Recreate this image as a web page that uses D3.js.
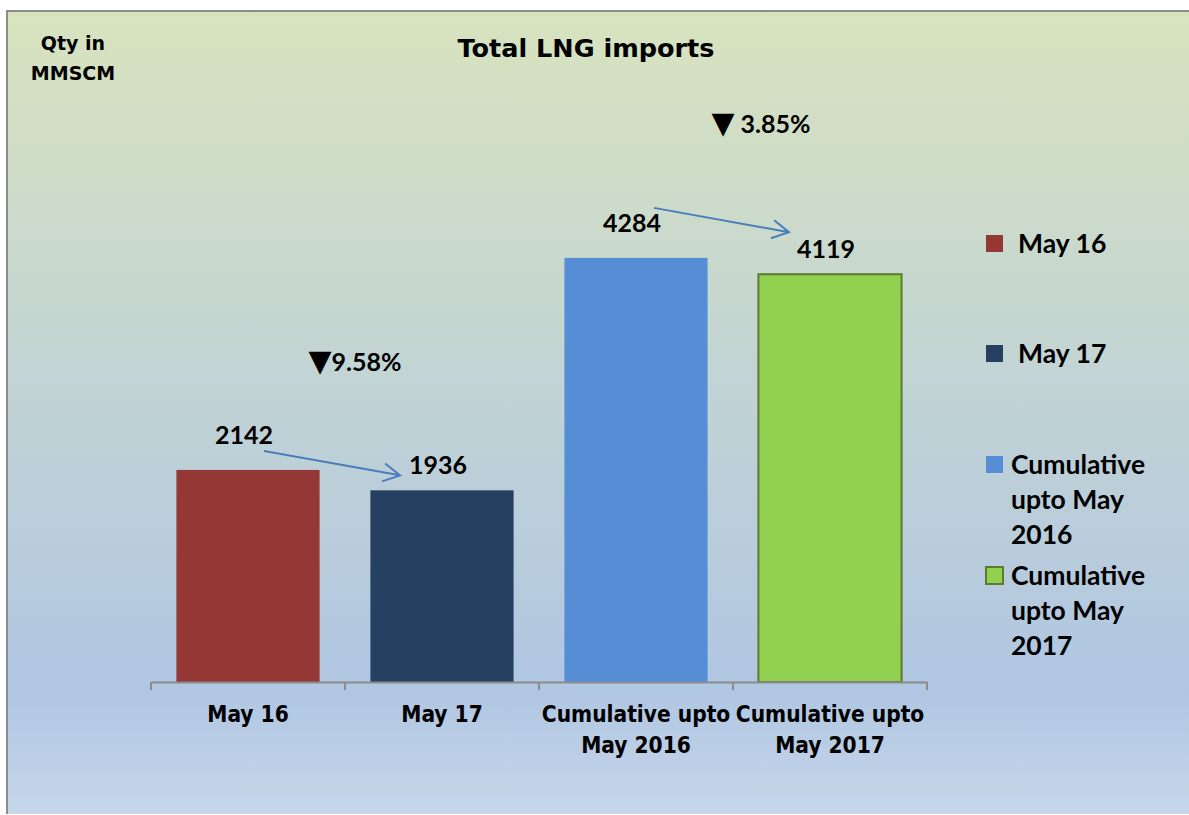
<!DOCTYPE html>
<html>
<head>
<meta charset="utf-8">
<script src="https://cdn.jsdelivr.net/npm/d3@7"></script>
<style>
  body { margin: 0; background: #fff; }
  text { font-family: Lato, "Open Sans", sans-serif; font-weight: bold; fill: #000; }
</style>
</head>
<body>
<svg id="chart" width="1189" height="815"></svg>
<script>
// categories and values
const categories = ['May 16', 'May 17', 'Cumulative upto May 2016', 'Cumulative upto May 2017'];
const values = [2142, 1936, 4284, 4119];
const colors = ['#953735', '#254061', '#558ed5', '#92d050'];
const changeLabels = ['9.58%', ' 3.85%'];
const changePairs = [[0, 1], [2, 3]];

/**
 * Wrap a label into lines no wider than maxWidth
 */
const wrapWords = (textSel, label, maxWidth, lineHeight) => {
  const words = label.split(' ');
  let line = [];
  let lines = [];
  let tspan = textSel.append('tspan').attr('x', textSel.attr('x'));
  words.forEach(w => {
    line.push(w);
    tspan.text(line.join(' '));
    if (tspan.node().getComputedTextLength() > maxWidth && line.length > 1) {
      line.pop();
      tspan.text(line.join(' '));
      lines.push(tspan);
      line = [w];
      tspan = textSel.append('tspan').attr('x', textSel.attr('x')).text(w);
    }
  });
  lines.push(tspan);
  lines.forEach((t, i) => t.attr('dy', i === 0 ? 0 : lineHeight));
};

const drawChart = () => {
  const svg = d3.select('#chart');
  const W = 1189, H = 815;

  // background panel with gradient
  const defs = svg.append('defs');
  const grad = defs.append('linearGradient')
    .attr('id', 'bg').attr('x1', 0).attr('y1', 0).attr('x2', 0).attr('y2', 1);
  grad.append('stop').attr('offset', '0%').attr('stop-color', '#d8e3be');
  grad.append('stop').attr('offset', '45%').attr('stop-color', '#c2d4d4');
  grad.append('stop').attr('offset', '85%').attr('stop-color', '#b0c6e2');
  grad.append('stop').attr('offset', '100%').attr('stop-color', '#c7d7ea');

  svg.append('rect')
    .attr('x', 7).attr('y', 11).attr('width', W - 7).attr('height', H - 12)
    .attr('fill', 'url(#bg)');
  svg.append('path')
    .attr('d', `M7,${H - 1} V11 H${W}`)
    .attr('fill', 'none')
    .attr('stroke', '#8c8c8c')
    .attr('stroke-width', 2);

  // scales
  const x = d3.scaleBand()
    .domain(categories)
    .range([151, 927])
    .paddingInner(0.262)
    .paddingOuter(0.131);
  const y = d3.scaleLinear()
    .domain([0, 5000])
    .range([682, 187]);

  // bars
  svg.append('g').selectAll('rect')
    .data(values)
    .join('rect')
    .attr('x', (d, i) => x(categories[i]))
    .attr('y', d => y(d))
    .attr('width', x.bandwidth())
    .attr('height', d => y(0) - y(d))
    .attr('fill', (d, i) => colors[i])
    .attr('stroke', (d, i) => i === 3 ? '#5e7a30' : 'none')
    .attr('stroke-width', 2);

  // x axis
  const axis = svg.append('g')
    .attr('transform', `translate(0,${y(0)})`)
    .call(d3.axisBottom(x).tickSize(0).tickFormat(''));
  axis.select('.domain').attr('stroke', '#8c8c8c').attr('stroke-width', 2);
  const step = x.step();
  const tickXs = d3.range(categories.length + 1).map(i => 151 + i * step);
  axis.selectAll('line.sep')
    .data(tickXs)
    .join('line')
    .attr('class', 'sep')
    .attr('x1', d => d).attr('x2', d => d)
    .attr('y1', 0).attr('y2', 8)
    .attr('stroke', '#8c8c8c')
    .attr('stroke-width', 2);

  // x axis labels
  categories.forEach(c => {
    const t = svg.append('text')
      .attr('x', x(c) + x.bandwidth() / 2)
      .attr('y', 722)
      .attr('text-anchor', 'middle')
      .style('font-family', '"DejaVu Sans Condensed", "DejaVu Sans", sans-serif')
      .style('font-size', '22.5px');
    wrapWords(t, c, 200, 31);
  });

  // value labels
  svg.append('g').selectAll('text')
    .data(values)
    .join('text')
    .attr('x', (d, i) => x(categories[i]) + x.bandwidth() / 2 - 4)
    .attr('y', (d, i) => y(d) - (i % 2 === 0 ? 26 : 16))
    .attr('text-anchor', 'middle')
    .style('font-size', '25px')
    .text(d => d);

  // change annotations with arrows
  const annotationLayout = [
    {dx: 10, dy: -108, sx: 16, sy: -19, ex: -42, ey: -15},
    {dx: 28, dy: -134, sx: 18, sy: -50, ex: -41, ey: -42}
  ];
  changePairs.forEach(([a, b], k) => {
    const L = annotationLayout[k];
    const ca = x(categories[a]) + x.bandwidth() / 2;
    const cb = x(categories[b]) + x.bandwidth() / 2;
    const t = svg.append('text')
      .attr('x', (ca + cb) / 2 + L.dx)
      .attr('y', y(values[a]) + L.dy + 9)
      .attr('text-anchor', 'middle')
      .style('font-size', '25px');
    t.append('tspan')
      .style('font-family', '"DejaVu Sans", sans-serif')
      .style('font-size', '30px')
      .text('\u25BC');
    t.append('tspan').text(changeLabels[k]);

    const x1 = ca + L.sx, y1 = y(values[a]) + L.sy;
    const x2 = cb + L.ex, y2 = y(values[b]) + L.ey;
    const ang = Math.atan2(y2 - y1, x2 - x1);
    const head = 19, spread = 0.5;
    svg.append('path')
      .attr('d', `M${x1},${y1} L${x2},${y2}` +
        ` M${x2 - head * Math.cos(ang - spread)},${y2 - head * Math.sin(ang - spread)}` +
        ` L${x2},${y2} L${x2 - head * Math.cos(ang + spread)},${y2 - head * Math.sin(ang + spread)}`)
      .attr('fill', 'none')
      .attr('stroke', '#4a7ebb')
      .attr('stroke-width', 2);
  });

  // title
  svg.append('text')
    .attr('x', 586).attr('y', 57)
    .attr('text-anchor', 'middle')
    .style('font-family', '"DejaVu Sans", sans-serif')
    .style('font-size', '25.5px')
    .text('Total LNG imports');

  // unit label
  const unit = svg.append('text')
    .attr('x', 73).attr('y', 50)
    .attr('text-anchor', 'middle')
    .style('font-family', '"DejaVu Sans", sans-serif')
    .style('font-size', '19px');
  unit.append('tspan').attr('x', 73).text('Qty in');
  unit.append('tspan').attr('x', 73).attr('dy', 30).text('MMSCM');

  // legend
  const legendTops = [235, 345, 456, 567];
  categories.forEach((c, i) => {
    svg.append('rect')
      .attr('x', 986).attr('y', legendTops[i])
      .attr('width', 17).attr('height', 17)
      .attr('fill', colors[i])
      .attr('stroke', i === 3 ? '#5e7a30' : 'none')
      .attr('stroke-width', 2);
    const t = svg.append('text')
      .attr('x', i < 2 ? 1018 : 1011)
      .attr('y', legendTops[i] + 18)
      .style('font-size', '26.5px');
    wrapWords(t, c, 150, 35);
  });
};

drawChart();
</script>
</body>
</html>
